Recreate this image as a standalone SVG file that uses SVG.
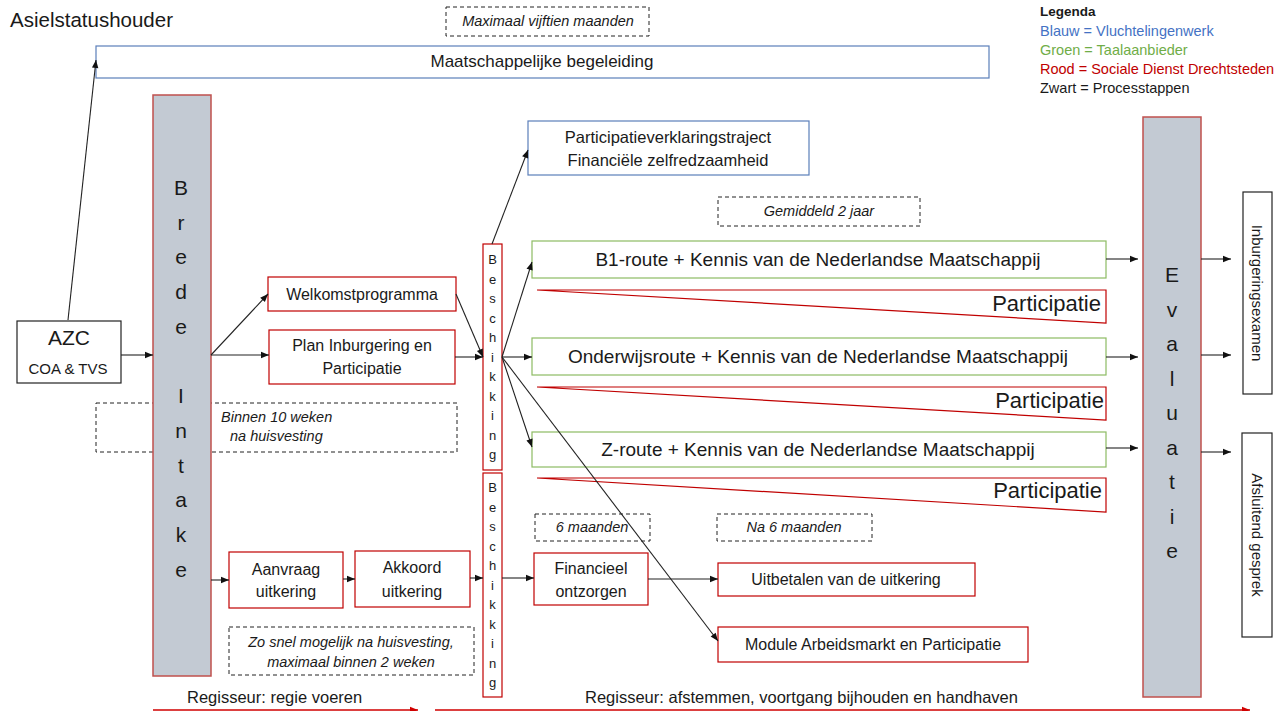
<svg xmlns="http://www.w3.org/2000/svg" width="1283" height="711" viewBox="0 0 1283 711">
<style>
text{font-family:"Liberation Sans",Arial,sans-serif;fill:#1a1a1a}
.red{fill:#fff;stroke:#c00000;stroke-width:1.2}
.blue{fill:#fff;stroke:#5b7fba;stroke-width:1.2}
.green{fill:#fff;stroke:#8dbb63;stroke-width:1.2}
.blk{fill:#fff;stroke:#222;stroke-width:1.2}
.dash{fill:#fff;stroke:#222;stroke-width:1;stroke-dasharray:4,3}
.col{fill:#c3cad3;stroke:#c0504d;stroke-width:1.5}
.part{fill:#fff;stroke:#c00000;stroke-width:1.2}
.it{font-style:italic;font-size:14.5px;text-anchor:middle}
.bx{font-size:16px;text-anchor:middle}
.rt{font-size:19px;text-anchor:middle}
.pt{font-size:22px;text-anchor:end}
.big{font-size:21px;text-anchor:middle}
.sm{font-size:13px;text-anchor:middle}
.lg{font-size:14.5px}
.con line{stroke:#222;stroke-width:1.1;marker-end:url(#ah)}
</style>
<defs>
<marker id="ah" viewBox="0 0 10 10" refX="10" refY="5" markerWidth="9" markerHeight="8" markerUnits="userSpaceOnUse" orient="auto"><path d="M0,1 L10,5 L0,9 z" fill="#111"/></marker>
<marker id="ahr" viewBox="0 0 10 10" refX="10" refY="5" markerWidth="10" markerHeight="8" markerUnits="userSpaceOnUse" orient="auto"><path d="M0,1 L10,5 L0,9 z" fill="#d00000"/></marker>
</defs>
<rect width="1283" height="711" fill="#fff"/>

<text x="10" y="27" style="font-size:20.5px">Asielstatushouder</text>

<g id="legend">
<text x="1040" y="16" style="font-size:13.5px;font-weight:bold">Legenda</text>
<text x="1040" y="36" class="lg" style="fill:#4472c4">Blauw = Vluchtelingenwerk</text>
<text x="1040" y="55" class="lg" style="fill:#70ad47">Groen = Taalaanbieder</text>
<text x="1040" y="74" class="lg" style="fill:#c00000">Rood = Sociale Dienst Drechtsteden</text>
<text x="1040" y="93" class="lg">Zwart = Processtappen</text>
</g>

<g id="n-max"><rect class="dash" x="446" y="7" width="203" height="29"/><text class="it" x="548" y="26">Maximaal vijftien maanden</text></g>
<g id="n-maats"><rect class="blue" x="96" y="46" width="893" height="32"/><text x="542" y="67" style="font-size:17px;text-anchor:middle">Maatschappelijke begeleiding</text></g>

<g id="n-binnen"><rect class="dash" x="96" y="403" width="361" height="49"/><text x="221" y="422" style="font-style:italic;font-size:14.5px">Binnen 10 weken</text><text x="230" y="441" style="font-style:italic;font-size:14.5px">na huisvesting</text></g>

<g id="n-azc"><rect class="blk" x="17" y="321" width="104" height="62"/><text class="big" x="69" y="345">AZC</text><text x="68" y="374" style="font-size:15px;text-anchor:middle">COA &amp; TVS</text></g>

<g id="n-brede"><rect class="col" x="153" y="95" width="58" height="581"/>
<text class="big" x="181" y="195">B<tspan x="181" dy="34.7">r</tspan><tspan x="181" dy="34.7">e</tspan><tspan x="181" dy="34.7">d</tspan><tspan x="181" dy="34.7">e</tspan><tspan x="181" dy="69.4">I</tspan><tspan x="181" dy="34.7">n</tspan><tspan x="181" dy="34.7">t</tspan><tspan x="181" dy="34.7">a</tspan><tspan x="181" dy="34.7">k</tspan><tspan x="181" dy="34.7">e</tspan></text></g>

<g id="n-welkom"><rect class="red" x="268" y="277" width="188" height="34"/><text class="bx" x="362" y="300">Welkomstprogramma</text></g>
<g id="n-plan"><rect class="red" x="269" y="330" width="186" height="54"/><text class="bx" x="362" y="351">Plan Inburgering en</text><text class="bx" x="362" y="374">Participatie</text></g>

<g id="n-besch1"><rect class="red" x="483" y="244" width="19" height="226"/>
<text class="sm" x="492.5" y="264">B<tspan x="492.5" dy="19.5">e</tspan><tspan x="492.5" dy="19.5">s</tspan><tspan x="492.5" dy="19.5">c</tspan><tspan x="492.5" dy="19.5">h</tspan><tspan x="492.5" dy="19.5">i</tspan><tspan x="492.5" dy="19.5">k</tspan><tspan x="492.5" dy="19.5">k</tspan><tspan x="492.5" dy="19.5">i</tspan><tspan x="492.5" dy="19.5">n</tspan><tspan x="492.5" dy="19.5">g</tspan></text></g>
<g id="n-besch2"><rect class="red" x="483" y="473" width="19" height="224"/>
<text class="sm" x="492.5" y="492">B<tspan x="492.5" dy="19.5">e</tspan><tspan x="492.5" dy="19.5">s</tspan><tspan x="492.5" dy="19.5">c</tspan><tspan x="492.5" dy="19.5">h</tspan><tspan x="492.5" dy="19.5">i</tspan><tspan x="492.5" dy="19.5">k</tspan><tspan x="492.5" dy="19.5">k</tspan><tspan x="492.5" dy="19.5">i</tspan><tspan x="492.5" dy="19.5">n</tspan><tspan x="492.5" dy="19.5">g</tspan></text></g>

<g id="n-pvt"><rect class="blue" x="528" y="121" width="281" height="54"/><text class="bx" x="668" y="143" style="font-size:16.5px">Participatieverklaringstraject</text><text class="bx" x="668" y="166" style="font-size:16.5px">Financiële zelfredzaamheid</text></g>
<g id="n-gem"><rect class="dash" x="718" y="197" width="202" height="29"/><text class="it" x="819" y="216">Gemiddeld 2 jaar</text></g>

<g id="n-b1"><rect class="green" x="532" y="241" width="574" height="37"/><text class="rt" x="818" y="266">B1-route + Kennis van de Nederlandse Maatschappij</text></g>
<g id="n-p1"><path class="part" d="M537,290 L1106,290 L1106,323 Z"/><text class="pt" x="1101" y="311">Participatie</text></g>
<g id="n-ond"><rect class="green" x="532" y="338" width="574" height="37"/><text class="rt" x="818" y="363">Onderwijsroute + Kennis van de Nederlandse Maatschappij</text></g>
<g id="n-p2"><path class="part" d="M537,387 L1106,387 L1106,420 Z"/><text class="pt" x="1104" y="408">Participatie</text></g>
<g id="n-z"><rect class="green" x="532" y="432" width="574" height="35"/><text class="rt" x="818" y="456">Z-route + Kennis van de Nederlandse Maatschappij</text></g>
<g id="n-p3"><path class="part" d="M537,478 L1106,478 L1106,512 Z"/><text class="pt" x="1102" y="498">Participatie</text></g>

<g id="n-eval"><rect class="col" x="1143" y="117" width="58" height="580"/>
<text class="big" x="1172" y="282">E<tspan x="1172" dy="34.5">v</tspan><tspan x="1172" dy="34.5">a</tspan><tspan x="1172" dy="34.5">l</tspan><tspan x="1172" dy="34.5">u</tspan><tspan x="1172" dy="34.5">a</tspan><tspan x="1172" dy="34.5">t</tspan><tspan x="1172" dy="34.5">i</tspan><tspan x="1172" dy="34.5">e</tspan></text></g>

<g id="n-inb"><rect class="blk" x="1243" y="192" width="29" height="202"/><text transform="translate(1252,293) rotate(90)" style="font-size:15px;text-anchor:middle">Inburgeringsexamen</text></g>
<g id="n-afs"><rect class="blk" x="1242" y="433" width="30" height="204"/><text transform="translate(1252,535) rotate(90)" style="font-size:15px;text-anchor:middle">Afsluitend gesprek</text></g>

<g id="n-aanvraag"><rect class="red" x="229" y="552" width="114" height="56"/><text class="bx" x="286" y="575">Aanvraag</text><text class="bx" x="286" y="597">uitkering</text></g>
<g id="n-akkoord"><rect class="red" x="355" y="551" width="115" height="56"/><text class="bx" x="412" y="573">Akkoord</text><text class="bx" x="412" y="597">uitkering</text></g>
<g id="n-zo"><rect class="dash" x="229" y="627" width="245" height="48"/><text class="it" x="351" y="647">Zo snel mogelijk na huisvesting,</text><text class="it" x="351" y="667">maximaal binnen 2 weken</text></g>

<g id="n-6m"><rect class="dash" x="535" y="514" width="115" height="27"/><text class="it" x="592" y="532">6 maanden</text></g>
<g id="n-na6"><rect class="dash" x="717" y="514" width="155" height="27"/><text class="it" x="794" y="532">Na 6 maanden</text></g>
<g id="n-fin"><rect class="red" x="534" y="553" width="114" height="52"/><text class="bx" x="591" y="574">Financieel</text><text class="bx" x="591" y="597">ontzorgen</text></g>
<g id="n-uit"><rect class="red" x="718" y="563" width="257" height="33"/><text class="bx" x="846" y="585">Uitbetalen van de uitkering</text></g>
<g id="n-mod"><rect class="red" x="718" y="627" width="310" height="35"/><text class="bx" x="873" y="650">Module Arbeidsmarkt en Participatie</text></g>

<g id="n-reg1"><text x="187" y="703" style="font-size:16.5px">Regisseur: regie voeren</text></g>
<g id="n-reg2"><text x="585" y="703" style="font-size:16.5px">Regisseur: afstemmen, voortgang bijhouden en handhaven</text></g>

<g id="connectors" class="con">
<line x1="68" y1="320" x2="96" y2="60"/>
<line x1="121" y1="355" x2="153" y2="355"/>
<line x1="211" y1="355" x2="268" y2="294"/>
<line x1="211" y1="355" x2="269" y2="355"/>
<line x1="456" y1="294" x2="483" y2="357"/>
<line x1="455" y1="357" x2="483" y2="357"/>
<line x1="492" y1="244" x2="528" y2="150"/>
<line x1="502" y1="357" x2="532" y2="262"/>
<line x1="502" y1="357" x2="532" y2="357"/>
<line x1="502" y1="357" x2="532" y2="447"/>
<line x1="502" y1="357" x2="718" y2="641"/>
<line x1="1106" y1="259" x2="1138" y2="259"/>
<line x1="1106" y1="357" x2="1138" y2="357"/>
<line x1="1106" y1="448" x2="1138" y2="448"/>
<line x1="1201" y1="259" x2="1231" y2="259"/>
<line x1="1201" y1="355" x2="1231" y2="355"/>
<line x1="1201" y1="452" x2="1231" y2="452"/>
<line x1="211" y1="580" x2="229" y2="580"/>
<line x1="343" y1="579" x2="355" y2="579"/>
<line x1="470" y1="578" x2="483" y2="578"/>
<line x1="502" y1="578" x2="534" y2="578"/>
<line x1="648" y1="579" x2="718" y2="579"/>
<line x1="153" y1="710" x2="418" y2="710" style="stroke:#d00000;stroke-width:1.5;marker-end:url(#ahr)"/>
<line x1="435" y1="710" x2="1250" y2="710" style="stroke:#d00000;stroke-width:1.5;marker-end:url(#ahr)"/>
</g>
</svg>
